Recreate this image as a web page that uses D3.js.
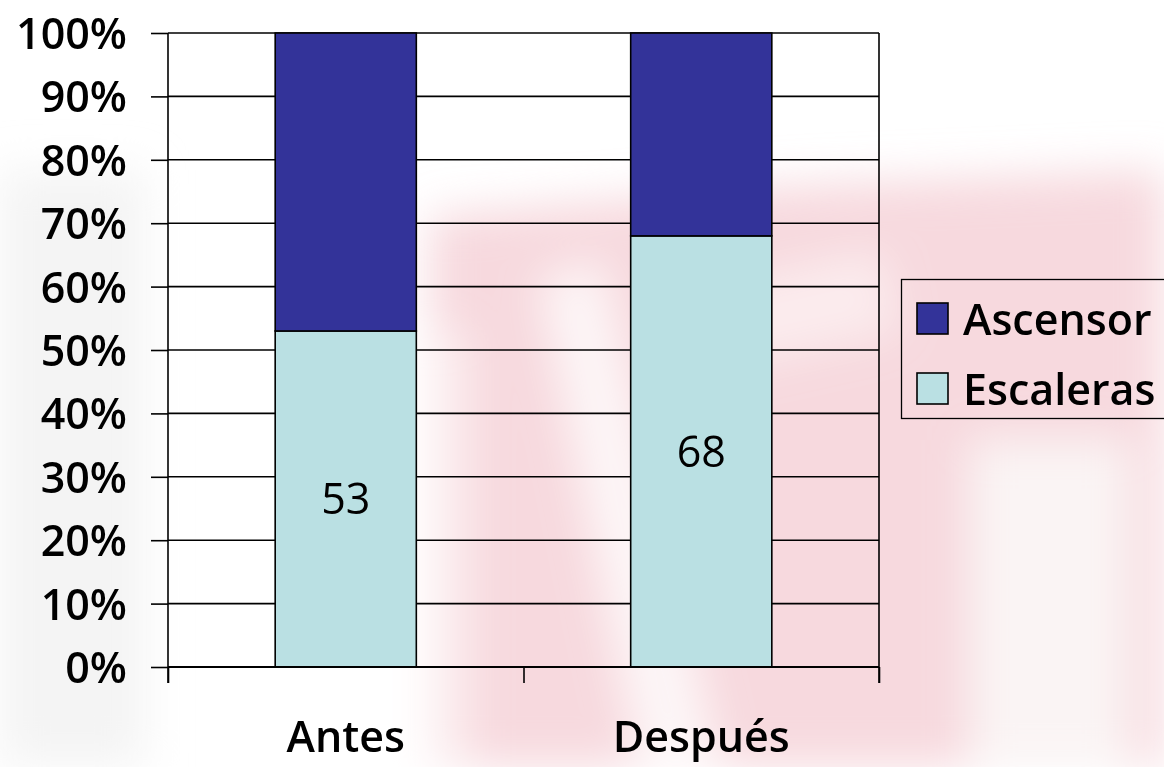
<!DOCTYPE html>
<html>
<head>
<meta charset="utf-8">
<script src="https://cdn.jsdelivr.net/npm/d3@7"></script>
<style>
  html, body { margin: 0; padding: 0; background: #ffffff; }
  svg { display: block; }
  text { font-family: "Open Sans", "DejaVu Sans", sans-serif; }
</style>
</head>
<body>
<svg id="chart" width="1164" height="767"></svg>
<script>
// ---- data ----
const categories = ["Antes", "Después"];
const seriesNames = ["Escaleras", "Ascensor"];
const escaleras = [53, 68];
const ascensor = [47, 32];
const yTicks = [0, 10, 20, 30, 40, 50, 60, 70, 80, 90, 100];
const legendOrder = ["Ascensor", "Escaleras"];

const colors = { "Ascensor": "#333399", "Escaleras": "#BAE0E3" };

const plot = { left: 168, right: 879, top: 33, bottom: 667 };

const svg = d3.select("#chart");

// ---- faint background watermark (decorative) ----
const defs = svg.append("defs");
defs.append("filter").attr("id", "blur").attr("x", "-30%").attr("y", "-30%").attr("width", "160%").attr("height", "160%")
  .append("feGaussianBlur").attr("stdDeviation", 22);
const wm = svg.append("g").attr("filter", "url(#blur)");
const pink = "#f5d0d6";
wm.append("path").attr("d", "M0,170 L145,170 L145,767 L0,767 Z").attr("fill", "#efefef").attr("opacity", 0.7);
wm.append("path").attr("d", "M430,215 L800,185 L1164,170 L1164,767 L430,767 Z").attr("fill", pink).attr("opacity", 0.8);
wm.append("path").attr("d", "M540,280 L600,260 L720,767 L640,767 Z").attr("fill", "#ffffff").attr("opacity", 0.75);
wm.append("path").attr("d", "M700,290 L880,250 L900,330 L720,370 Z").attr("fill", "#ffffff").attr("opacity", 0.5);
wm.append("path").attr("d", "M415,330 L470,330 L470,767 L415,767 Z").attr("fill", "#ffffff").attr("opacity", 0.5);
wm.append("path").attr("d", "M970,440 L1130,440 L1130,767 L970,767 Z").attr("fill", "#fbf6f6").attr("opacity", 0.95);

// ---- scales ----
const x = d3.scaleBand().domain(categories).range([plot.left, plot.right])
  .paddingInner(0.603).paddingOuter(0.3015);
const xEdge = d3.scaleLinear().domain([0, categories.length]).range([plot.left, plot.right]);
const y = d3.scaleLinear().domain([0, 100]).range([plot.bottom, plot.top]);

// ---- gridlines ----
svg.append("g").selectAll("line").data(yTicks).join("line")
  .attr("x1", plot.left).attr("x2", plot.right)
  .attr("y1", d => y(d)).attr("y2", d => y(d))
  .attr("stroke", "#000").attr("stroke-width", 1.6);

// right border
svg.append("line").attr("x1", plot.right).attr("x2", plot.right)
  .attr("y1", y(100)).attr("y2", y(0) + 16)
  .attr("stroke", "#000").attr("stroke-width", 1.6);

// ---- stacked bars ----
const table = categories.map((c, i) => ({ cat: c, Escaleras: escaleras[i], Ascensor: ascensor[i] }));
const stack = d3.stack().keys(seriesNames)(table);

const layers = svg.append("g").selectAll("g").data(stack).join("g")
  .attr("fill", d => colors[d.key]);
layers.selectAll("rect").data(d => d).join("rect")
  .attr("x", d => x(d.data.cat))
  .attr("width", x.bandwidth())
  .attr("y", d => y(d[1]))
  .attr("height", d => y(d[0]) - y(d[1]))
  .attr("stroke", "#000").attr("stroke-width", 1.6);

// data labels for Escaleras
const escLayer = stack.find(s => s.key === "Escaleras");
svg.append("g").selectAll("text").data(escLayer).join("text")
  .attr("x", d => x(d.data.cat) + x.bandwidth() / 2)
  .attr("y", d => (y(d[0]) + y(d[1])) / 2)
  .attr("dy", "0.36em")
  .attr("text-anchor", "middle")
  .attr("font-size", 43).attr("font-weight", 500).attr("fill", "#000")
  .text(d => d.data.Escaleras);

// ---- axes ----
const yAxis = svg.append("g").attr("transform", `translate(${plot.left},0)`)
  .call(d3.axisLeft(y).tickValues(yTicks).tickSize(17).tickPadding(24).tickFormat(d => d + "%"));
yAxis.select(".domain").attr("d", `M0,${y(100)}V${y(0) + 16}`).attr("stroke", "#000").attr("stroke-width", 1.6);
yAxis.selectAll(".tick line").attr("stroke", "#000").attr("stroke-width", 1.6);
yAxis.selectAll(".tick text").attr("font-size", 43).attr("font-weight", 600).attr("fill", "#000")
  .attr("font-family", "'Open Sans', sans-serif").attr("dy", "0.36em");

const xAxis = svg.append("g").attr("transform", `translate(0,${plot.bottom})`)
  .call(d3.axisBottom(xEdge).tickValues(d3.range(categories.length + 1)).tickSize(16).tickFormat(""));
xAxis.select(".domain").remove();
xAxis.selectAll(".tick line").attr("stroke", "#000").attr("stroke-width", 1.6);

svg.append("line").attr("x1", plot.left).attr("x2", plot.right)
  .attr("y1", plot.bottom).attr("y2", plot.bottom)
  .attr("stroke", "#000").attr("stroke-width", 2);

svg.append("g").selectAll("text").data(categories).join("text")
  .attr("x", d => x(d) + x.bandwidth() / 2)
  .attr("y", 752)
  .attr("text-anchor", "middle")
  .attr("font-size", 43).attr("font-weight", 600).attr("fill", "#000")
  .text(d => d);

// ---- legend ----
const lg = svg.append("g");
lg.append("rect").attr("x", 901.5).attr("y", 279.5).attr("width", 300).attr("height", 139)
  .attr("fill", "none").attr("stroke", "#000").attr("stroke-width", 1.3);
const items = lg.selectAll("g.item").data(legendOrder).join("g").attr("class", "item")
  .attr("transform", (d, i) => `translate(917,${303 + i * 70})`);
items.append("rect").attr("width", 31).attr("height", 31)
  .attr("fill", d => colors[d]).attr("stroke", "#000").attr("stroke-width", 1.6);
items.append("text").attr("x", 46).attr("y", 32)
  .attr("font-size", 43).attr("font-weight", 600).attr("fill", "#000")
  .text(d => d);
</script>
</body>
</html>
